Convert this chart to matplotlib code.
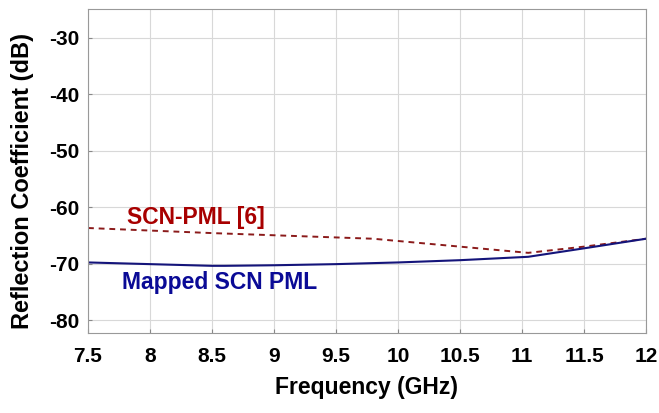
import matplotlib.pyplot as plt

# Mapped SCN PML (solid)
freq_mapped = [7.5, 8.0, 8.5, 8.6, 9.0, 9.5, 10.0, 10.5, 11.05, 11.5, 12.0]
refl_mapped = [-69.8, -70.1, -70.4, -70.4, -70.3, -70.1, -69.8, -69.4, -68.8, -67.3, -65.6]

# SCN-PML [6] (dashed)
freq_scn = [7.5, 8.5, 9.8, 11.05, 11.5, 12.0]
refl_scn = [-63.7, -64.6, -65.6, -68.1, -67.0, -65.6]

xticks = [7.5, 8, 8.5, 9, 9.5, 10, 10.5, 11, 11.5, 12]
xticklabels = ["7.5", "8", "8.5", "9", "9.5", "10", "10.5", "11", "11.5", "12"]
yticks = [-80, -70, -60, -50, -40, -30]

plt.rcParams['font.family'] = ['Liberation Sans', 'DejaVu Sans']
plt.rcParams['font.weight'] = 'bold'
plt.rcParams['axes.unicode_minus'] = False

fig = plt.figure(figsize=(6.59, 4.13), dpi=100)
ax = fig.add_axes([88 / 659, 1 - 333 / 413, (646 - 88) / 659, (333 - 9) / 413])

ax.plot(freq_scn, refl_scn, color='#8B1A1A', linestyle=(0, (3, 2.5)), linewidth=1.4)
ax.plot(freq_mapped, refl_mapped, color='#14147A', linewidth=1.5)

ax.text(8.37, -61.9, "SCN-PML [6]", color='#A80000', fontsize=16.5, fontweight='bold', ha='center', va='center')
ax.text(8.56, -73.4, "Mapped SCN PML", color='#0A0A96', fontsize=16.5, fontweight='bold', ha='center', va='center')

ax.set_xlim(7.5, 12)
ax.set_ylim(-82.3, -24.9)
ax.set_xticks(xticks)
ax.set_xticklabels(xticklabels)
ax.set_yticks(yticks)
ax.tick_params(direction='in', length=3, color='#888888', labelsize=15, pad=6)
ax.tick_params(axis='x', pad=10)
ax.grid(True, color='#D8D8D8', linewidth=0.8)
for s in ax.spines.values():
    s.set_color('#999999')

ax.set_xlabel("Frequency (GHz)", fontsize=16.5, fontweight='bold', labelpad=7)
ax.set_ylabel("Reflection Coefficient (dB)", fontsize=17, fontweight='bold')
ax.yaxis.set_label_coords(-0.097, 0.47)

plt.savefig("out.png", dpi=100)
